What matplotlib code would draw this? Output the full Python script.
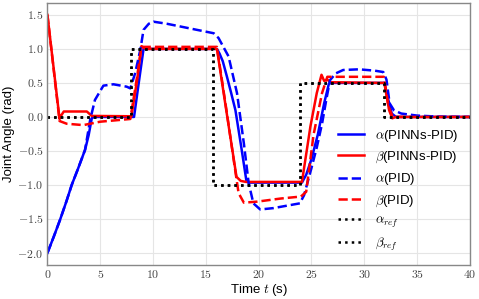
import matplotlib
matplotlib.use('Agg')
import matplotlib.pyplot as plt
from matplotlib.ticker import FuncFormatter

plt.rcParams['font.family'] = ['Liberation Sans', 'DejaVu Sans']
plt.rcParams['mathtext.fontset'] = 'cm'

# reference steps (alpha_ref and beta_ref are the same signal)
t_ref = [0, 7.9, 7.9, 15.7, 15.7, 23.9, 23.9, 31.85, 31.85, 40]
v_ref = [0, 0, 1, 1, -1, -1, 0.5, 0.5, 0, 0]

# alpha, PINNs-PID
t_alpha_pinn = [0, 0.6, 1.2, 1.8, 2.3, 2.9, 3.56, 3.9, 4.2, 4.4, 8.2, 8.6, 9.1, 16.05, 16.3, 16.6,
                17.0, 17.4, 17.8, 18.4, 18.85, 19.1, 24.1, 24.5, 25.0, 25.6, 26.2, 26.65,
                27.0, 31.9, 32.2, 32.6, 33.0, 40]
v_alpha_pinn = [-2.0, -1.76, -1.51, -1.24, -1.0, -0.76, -0.485, -0.27, -0.02, 0.0, 0.0, 0.45, 1.0,
                 1.0, 0.93, 0.82, 0.59, 0.35, 0.1, -0.49, -0.95, -0.965, -0.965, -0.85, -0.62,
                 -0.26, 0.2, 0.49, 0.5, 0.5, 0.3, 0.05, 0.0, 0.0]

# beta, PINNs-PID
t_beta_pinn = [0, 1.15, 1.3, 1.55, 3.73, 4.2, 7.95, 8.5, 8.9, 9.3, 16.05, 17.0, 17.9, 18.3,
               18.8, 24.1, 24.9, 25.5, 25.95, 26.2, 26.5, 26.8, 31.9, 32.35, 32.65, 33.0, 40]
v_beta_pinn = [1.5, -0.03, 0.02, 0.08, 0.08, 0.015, 0.01, 0.55, 1.04, 1.0, 1.0, 0.03, -0.88, -0.94,
               -0.955, -0.955, -0.14, 0.35, 0.62, 0.53, 0.55, 0.51, 0.5, 0.1, -0.02, 0.0, 0.0]

# alpha, PID
t_alpha_pid = [0, 0.6, 1.2, 1.8, 2.3, 2.9, 3.56, 4.05, 4.5, 5.3, 6.25, 7.5, 7.85, 8.3, 8.8, 9.1,
               9.6, 10.05, 11.3, 15.75, 16.2, 17.15, 17.95, 18.6, 19.05, 19.5, 20.15, 21.4,
               23.9, 24.3, 25.0, 25.5, 26.0, 26.4, 26.75, 27.3, 28.0, 29.5, 31.0, 31.8,
               32.1, 32.4, 32.8, 33.5, 35.0, 37.0, 40]
v_alpha_pid = [-2.0, -1.76, -1.51, -1.24, -1.0, -0.76, -0.485, -0.04, 0.25, 0.46, 0.48, 0.445, 0.42,
               0.64, 0.99, 1.28, 1.37, 1.4, 1.37, 1.23, 1.16, 0.89, 0.35, -0.39, -0.97, -1.27,
               -1.36, -1.34, -1.27, -1.15, -0.75, -0.45, -0.1, 0.25, 0.54, 0.64, 0.69, 0.70,
               0.68, 0.66, 0.55, 0.2, 0.1, 0.05, 0.02, 0.005, 0.0]

# beta, PID
t_beta_pid = [0, 1.15, 1.83, 3.4, 5.0, 7.85, 8.5, 8.9, 16.05, 17.0, 17.7, 18.1, 18.6, 19.85,
              22.05, 24.0, 24.5, 25.2, 26.0, 26.5, 31.85, 32.3, 32.7, 40]
v_beta_pid = [1.5, -0.06, -0.1, -0.12, -0.07, -0.03, 0.6, 1.03, 1.03, 0.05, -0.7, -1.12, -1.26, -1.245,
              -1.2, -1.17, -1.1, -0.26, 0.35, 0.59, 0.59, 0.15, 0.0, 0.0]

fig, ax = plt.subplots(figsize=(4.79, 2.99), dpi=100)
fig.subplots_adjust(left=0.099, right=0.981, top=0.99, bottom=0.114)

ax.plot(t_alpha_pinn, v_alpha_pinn, color='#0000ff', lw=1.8, label=r'$\alpha$(PINNs-PID)')
ax.plot(t_beta_pinn, v_beta_pinn, color='#ff0000', lw=1.8, label=r'$\beta$(PINNs-PID)')
ax.plot(t_alpha_pid, v_alpha_pid, color='#0000ff', lw=1.8, ls='--', label=r'$\alpha$(PID)')
ax.plot(t_beta_pid, v_beta_pid, color='#ff0000', lw=1.8, ls='--', label=r'$\beta$(PID)')
ax.plot(t_ref, v_ref, color='black', lw=1.8, ls=':', label=r'$\alpha_{ref}$')
ax.plot(t_ref, v_ref, color='black', lw=1.8, ls=':', label=r'$\beta_{ref}$')

ax.set_xlim(0, 40)
ax.set_ylim(-2.175, 1.675)
ax.set_xticks([0, 5, 10, 15, 20, 25, 30, 35, 40])
ax.set_yticks([-2.0, -1.5, -1.0, -0.5, 0.0, 0.5, 1.0, 1.5])
ax.xaxis.set_major_formatter(FuncFormatter(lambda x, p: f'${x:.0f}$'))
ax.yaxis.set_major_formatter(FuncFormatter(lambda y, p: f'${y:.1f}$'))
ax.tick_params(length=0, pad=3, labelsize=8.5, colors='#444444')

ax.grid(True, color='#e5e5e5', lw=0.8)
ax.set_axisbelow(True)
for s in ax.spines.values():
    s.set_color('#888888')
    s.set_linewidth(1.0)

ax.set_xlabel(r'Time $t$ (s)', fontsize=9.5, labelpad=1)
ax.set_ylabel('Joint Angle (rad)', fontsize=9.5, labelpad=2)

ax.legend(loc='lower right', frameon=False, fontsize=9.5, labelspacing=0.45)

fig.savefig('out.png', dpi=100)
